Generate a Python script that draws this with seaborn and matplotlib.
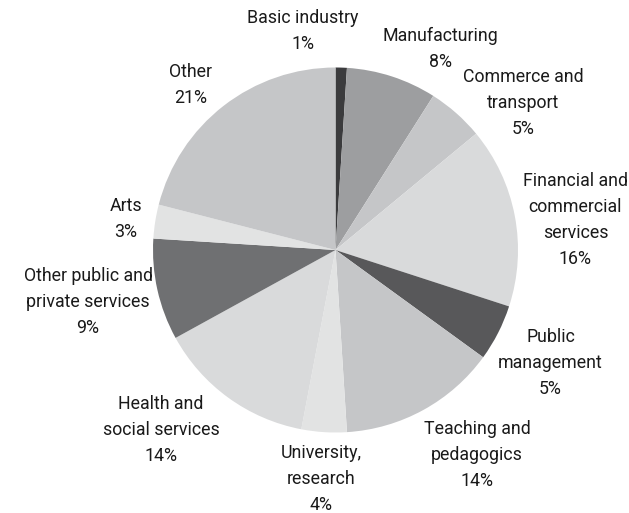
import matplotlib
matplotlib.use("Agg")
import matplotlib.pyplot as plt
import seaborn as sns

sns.set_theme(style="white")
plt.rcParams["font.family"] = ["Roboto", "DejaVu Sans"]

# Employment by sector, share in percent
sectors = [
    "Basic industry", "Manufacturing", "Commerce and\ntransport",
    "Financial and\ncommercial\nservices", "Public\nmanagement",
    "Teaching and\npedagogics", "University,\nresearch",
    "Health and\nsocial services", "Other public and\nprivate services",
    "Arts", "Other",
]
shares = [1, 8, 5, 16, 5, 14, 4, 14, 9, 3, 21]
colors = ["#3b3b3d", "#9d9ea0", "#c5c6c8", "#d9dadb", "#58585a", "#c5c6c8",
          "#e2e3e3", "#d9dadb", "#6f7072", "#e2e3e3", "#c5c6c8"]

# label block centres (axes data units, pie radius = 1)
label_pos = [(-0.178, 1.200), (0.573, 1.100), (1.030, 0.805), (1.315, 0.164),
             (1.178, -0.619), (0.776, -1.123), (-0.079, -1.255),
             (-0.956, -0.986), (-1.356, -0.285), (-1.148, 0.170), (-0.792, 0.904)]

fig = plt.figure(figsize=(6.29, 5.13), dpi=100)
ax = fig.add_axes([0, 0, 1, 1])
ax.pie(shares, colors=colors, startangle=90, counterclock=False, radius=1,
       wedgeprops=dict(linewidth=0))
for name, val, (x, y) in zip(sectors, shares, label_pos):
    ax.text(x, y, f"{name}\n{val}%", ha="center", va="center",
            fontsize=12.8, color="#1a1a1a", linespacing=1.58)

cx, cy, r = 335.5, 250.0, 182.5
ax.set_xlim((0 - cx) / r, (629 - cx) / r)
ax.set_ylim((cy - 513) / r, (cy - 0) / r)
ax.set_aspect("equal")
ax.axis("off")
fig.savefig("out.png", dpi=100, facecolor="white")
